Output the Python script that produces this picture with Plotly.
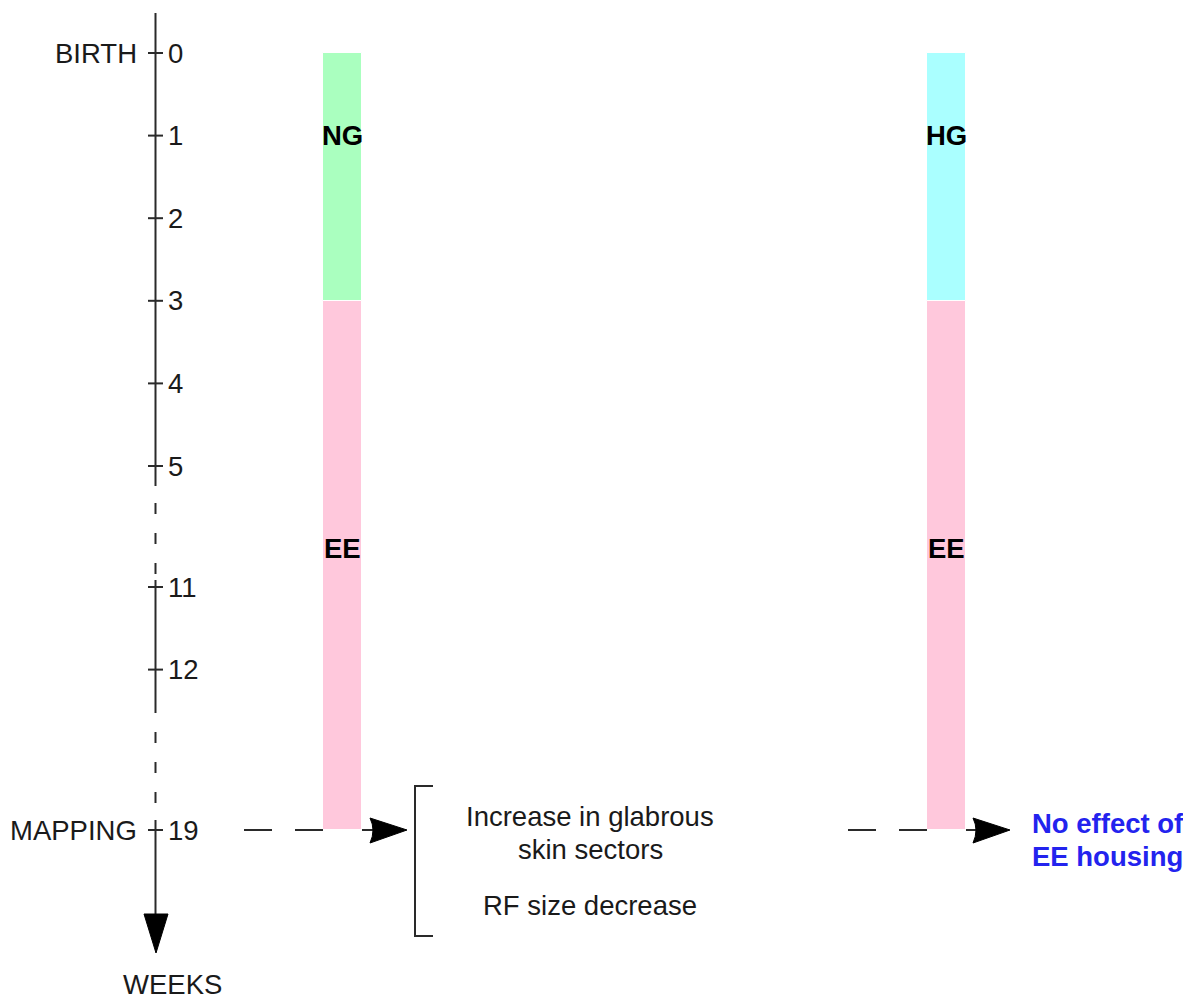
import plotly.graph_objects as go

# --- data ---
weeks = [0, 1, 2, 3, 4, 5, 11, 12, 19]
left_phases = ["NG", "EE"]
right_phases = ["HG", "EE"]
phase_start = [0, 3]
phase_end = [3, 19]
left_result = [["Increase in glabrous", "skin sectors"], ["RF size decrease"]]
right_result = ["No effect of", "EE housing"]
events = {"BIRTH": 0, "MAPPING": 19}

# --- layout helpers (broken time axis, pixel space) ---
PX_WEEK = 82.6


def week_y(w):
    if w <= 5:
        return 53 + PX_WEEK * w
    if w <= 12:
        return 587 + PX_WEEK * (w - 11)
    return 830


AX_X = 155.5
FONT = "Arial, Liberation Sans, sans-serif"
FS = 27.5
LINE_H = 33
INK = "#1a1a1a"
colors = {"NG": "#aaffbf", "HG": "#aaffff", "EE": "#ffc8dc"}

fig = go.Figure()

# phase bars
for cx, phases in [(342.5, left_phases), (946, right_phases)]:
    for name, s, e in zip(phases, phase_start, phase_end):
        fig.add_trace(go.Bar(
            x=[cx], base=[week_y(s)], y=[week_y(e) - week_y(s)], width=39,
            marker=dict(color=colors[name], line=dict(color="white", width=1)),
            showlegend=False, hoverinfo="skip"))
    # labels: first phase at week 1, second inside axis break
    fig.add_annotation(x=cx, y=week_y(1), text=f"<b>{phases[0]}</b>", showarrow=False,
                       font=dict(size=FS, color="black", family=FONT))
    fig.add_annotation(x=cx, y=548, text=f"<b>{phases[1]}</b>", showarrow=False,
                       font=dict(size=FS, color="black", family=FONT))

shapes = []
line = dict(color="#2a2a2a", width=2)
# vertical time axis, with breaks drawn dashed
for y0, y1 in [(13, 486), (580, 713), (820, 918)]:
    shapes.append(dict(type="line", x0=AX_X, x1=AX_X, y0=y0, y1=y1, line=line))
for y0, y1 in [(503, 575), (732, 803)]:
    shapes.append(dict(type="line", x0=AX_X, x1=AX_X, y0=y0, y1=y1,
                       line=dict(color="#2a2a2a", width=2, dash="11px,19px")))
# ticks
for w in weeks:
    y = week_y(w)
    shapes.append(dict(type="line", x0=148, x1=163, y0=y, y1=y, line=line))
# down arrow head
shapes.append(dict(type="path", path="M 144,914 L 168,914 L 156,953 Z",
                   fillcolor="black", line=dict(color="black", width=1)))

# mapping arrows
ym = week_y(19)
for dash_x0, bar_x1, head_x0 in [(244, 323, 370), (848, 927, 973)]:
    shapes.append(dict(type="line", x0=dash_x0, x1=bar_x1, y0=ym, y1=ym,
                       line=dict(color="#2a2a2a", width=2, dash="28px,23px")))
    shapes.append(dict(type="line", x0=bar_x1 + 39, x1=head_x0 + 8, y0=ym, y1=ym, line=line))
    shapes.append(dict(type="path",
                       path=f"M {head_x0},{ym - 12} L {head_x0 + 37},{ym} L {head_x0},{ym + 13} Q {head_x0 + 6},{ym} {head_x0},{ym - 12} Z",
                       fillcolor="black", line=dict(color="black", width=1)))
# bracket
shapes.append(dict(type="path", path="M 433,786 L 415,786 L 415,936 L 433,936",
                   line=dict(color="#2a2a2a", width=2)))

fig.update_layout(shapes=shapes)

# tick labels
for w in weeks:
    fig.add_annotation(x=166, y=week_y(w), text=str(w), xanchor="left", showarrow=False,
                       font=dict(size=FS, color=INK, family=FONT))
for label, w in events.items():
    fig.add_annotation(x=139, y=week_y(w), text=label, xanchor="right", showarrow=False,
                       font=dict(size=FS, color=INK, family=FONT))
fig.add_annotation(x=172, y=984, text="WEEKS", showarrow=False,
                   font=dict(size=FS, color=INK, family=FONT))

# outcomes (one annotation per line to get the tighter line spacing)
for block, y_top in zip(left_result, [816, 905]):
    for i, txt in enumerate(block):
        fig.add_annotation(x=590, y=y_top + i * LINE_H, text=txt, showarrow=False,
                           font=dict(size=FS, color=INK, family=FONT))
for i, txt in enumerate(right_result):
    fig.add_annotation(x=1030, y=823 + i * LINE_H, text=f"<b>{txt}</b>", xanchor="left",
                       showarrow=False, font=dict(size=FS, color="#2323ee", family=FONT))

# the page body adds an 8px offset, so the axes ranges are shifted to compensate
fig.update_layout(
    width=1191, height=1000,
    margin=dict(l=0, r=0, t=0, b=0),
    paper_bgcolor="white", plot_bgcolor="white",
    barmode="overlay", bargap=0,
    xaxis=dict(range=[8, 1199], visible=False, fixedrange=True),
    yaxis=dict(range=[1008, 8], visible=False, fixedrange=True),
)

fig.write_html("out.html")
